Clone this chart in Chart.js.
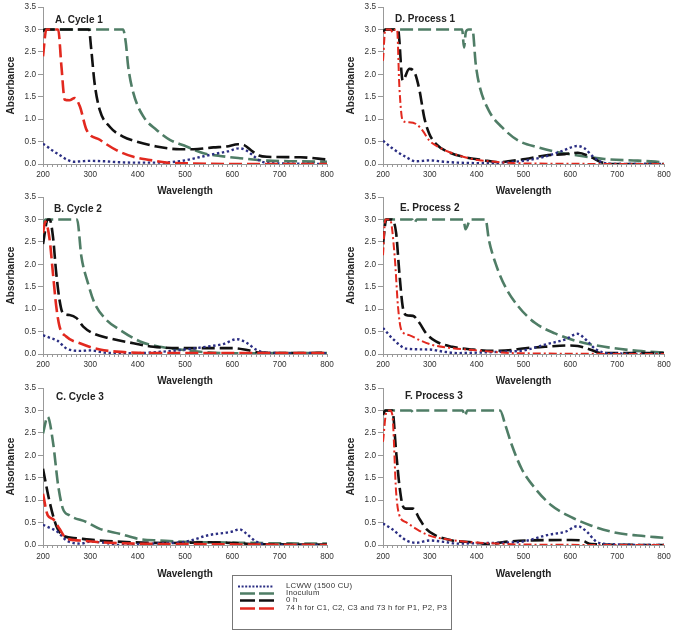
<!DOCTYPE html>
<html>
<head>
<meta charset="utf-8">
<script src="https://cdn.jsdelivr.net/npm/chart.js@4"></script>
<style>
  body { margin: 0; background: #fff; width: 677px; height: 635px; position: relative; overflow: hidden; font-family: "Liberation Sans", Arial, sans-serif; }
  canvas { position: absolute; }
  #legend { position: absolute; left: 232px; top: 575px; width: 220px; height: 55px; border: 1px solid #777; box-sizing: border-box; font-size: 7.8px; letter-spacing: 0.25px; color: #333; }
  .row { position: absolute; left: 0; height: 8px; line-height: 8px; display: flex; align-items: center; white-space: nowrap; }
  .row svg { margin-left: 5px; margin-right: 12px; }
</style>
</head>
<body>
<canvas id="cA" width="340" height="200" style="left:0;top:0"></canvas>
<canvas id="cD" width="337" height="200" style="left:340px;top:0"></canvas>
<canvas id="cB" width="340" height="200" style="left:0;top:190px"></canvas>
<canvas id="cE" width="337" height="200" style="left:340px;top:190px"></canvas>
<canvas id="cC" width="340" height="202" style="left:0;top:381px"></canvas>
<canvas id="cF" width="337" height="202" style="left:340px;top:381px"></canvas>

<div id="legend">
  <div class="row" style="top:6px"><svg width="36" height="7"><line x1="0" y1="3.5" x2="36" y2="3.5" stroke="#2b2e83" stroke-width="2" stroke-dasharray="2 1.6"/></svg>LCWW (1500 CU)</div>
  <div class="row" style="top:13px"><svg width="36" height="7"><line x1="2" y1="3.5" x2="36" y2="3.5" stroke="#4f7d66" stroke-width="2.5" stroke-dasharray="15 4"/></svg>Inoculum</div>
  <div class="row" style="top:20px"><svg width="36" height="7"><line x1="2" y1="3.5" x2="36" y2="3.5" stroke="#111" stroke-width="2.5" stroke-dasharray="15 4"/></svg>0 h</div>
  <div class="row" style="top:28px"><svg width="36" height="7"><line x1="2" y1="3.5" x2="36" y2="3.5" stroke="#e2291f" stroke-width="2.5" stroke-dasharray="15 4"/></svg>74 h for C1, C2, C3 and 73 h for P1, P2, P3</div>
</div>

<script>
// --- DATA: wavelength (nm) / absorbance ---

// A. Cycle 1
const wlA_lcww = [200,210,220,235,250,265,280,300,330,360,400,440,470,500,530,560,590,615,630,645,660,680,720,800];
const absA_lcww = [0.45,0.38,0.3,0.2,0.1,0.05,0.06,0.07,0.06,0.04,0.03,0.03,0.04,0.08,0.15,0.22,0.28,0.35,0.3,0.18,0.06,0.02,0.01,0.0];
const wlA_inoc = [200,205,369,375,380,391,412,440,468,503,539,574,616,673,740,800];
const absA_inoc = [2.95,3.0,3.0,2.7,2.17,1.58,1.06,0.76,0.54,0.39,0.24,0.18,0.13,0.075,0.06,0.05];
const wlA_0h = [200,203,297,302,309,320,341,369,398,440,489,518,560,588,612,625,640,656,673,744,800];
const absA_0h = [2.95,3.0,3.0,2.55,1.8,1.2,0.83,0.61,0.5,0.39,0.33,0.33,0.37,0.39,0.44,0.42,0.3,0.19,0.16,0.15,0.1];
const wlA_end = [200,207,232,239,246,256,267,278,292,320,355,391,426,461,504,600,800];
const absA_end = [2.4,3.0,3.0,2.17,1.43,1.42,1.47,1.28,0.76,0.54,0.31,0.16,0.09,0.03,0.015,0.0,0.0];

// B. Cycle 2
const wlB_lcww = [200,215,230,250,280,300,330,360,400,450,500,550,580,610,630,650,670,720,800];
const absB_lcww = [0.42,0.36,0.3,0.12,0.07,0.08,0.03,0.02,0.02,0.05,0.1,0.17,0.22,0.33,0.25,0.1,0.03,0.02,0.02];
const wlB_inoc = [200,205,272,281,295,309,334,362,405,447,489,532,602,700,800];
const absB_inoc = [2.9,3.0,3.0,2.18,1.58,1.13,0.76,0.54,0.28,0.16,0.1,0.05,0.015,0.02,0.02];
const wlB_0h = [200,210,214,221,228,235,242,256,271,285,306,341,391,433,496,560,602,631,659,744,800];
const absB_0h = [2.45,3.0,3.0,2.62,1.8,1.2,0.91,0.87,0.8,0.61,0.46,0.35,0.24,0.16,0.13,0.13,0.13,0.09,0.03,0.02,0.03];
const wlB_end = [200,205,214,221,228,235,249,278,320,376,420,800];
const absB_end = [2.7,2.95,2.55,1.8,1.06,0.61,0.39,0.24,0.1,0.04,0.02,0.02];

// C. Cycle 3
const wlC_lcww = [200,215,230,250,280,300,330,360,400,450,500,550,600,615,630,650,680,800];
const absC_lcww = [0.45,0.38,0.3,0.1,0.03,0.08,0.05,0.0,0.02,0.04,0.07,0.22,0.3,0.35,0.25,0.08,0.0,0.0];
const wlC_inoc = [200,210,221,232,242,256,292,320,362,405,447,496,567,680,800];
const absC_inoc = [2.49,2.86,2.3,1.33,0.81,0.66,0.51,0.36,0.25,0.13,0.1,0.07,0.06,0.04,0.03];
const wlC_0h = [200,214,228,242,271,320,391,461,553,602,650,800];
const absC_0h = [1.7,0.96,0.43,0.21,0.15,0.1,0.06,0.045,0.06,0.045,0.02,0.01];
const wlC_end = [200,210,221,235,249,278,320,400,500,800];
const absC_end = [1.14,0.66,0.58,0.36,0.15,0.1,0.06,0.03,0.02,0.0];

// D. Process 1
const wlD_lcww = [200,220,250,270,300,330,360,400,450,500,540,580,615,630,650,670,700,800];
const absD_lcww = [0.52,0.35,0.15,0.06,0.08,0.05,0.03,0.02,0.03,0.07,0.15,0.28,0.4,0.35,0.15,0.03,0.0,0.0];
const wlD_inoc = [200,205,369,373,377,383,391,398,405,426,454,489,532,574,616,673,744,800];
const absD_inoc = [2.95,3.0,3.0,2.6,2.95,3.0,3.0,2.23,1.79,1.19,0.82,0.52,0.37,0.26,0.19,0.11,0.075,0.04];
const wlD_0h = [200,205,232,242,256,267,278,288,299,313,341,376,412,447,475,504,546,588,616,645,666,687,800];
const absD_0h = [2.95,3.0,3.0,1.86,2.12,2.05,1.64,1.04,0.67,0.45,0.26,0.15,0.09,0.04,0.07,0.11,0.19,0.22,0.25,0.15,0.04,0.0,0.0];
const wlD_end = [200,205,216,221,226,230,235,242,253,271,285,299,320,348,391,426,461,520,800];
const absD_end = [2.3,3.0,3.0,2.93,3.0,3.0,1.71,0.97,0.93,0.89,0.74,0.52,0.37,0.24,0.11,0.06,0.03,0.01,0.0];

// E. Process 2
const wlE_lcww = [200,220,250,300,330,360,400,450,500,550,590,615,635,655,680,800];
const absE_lcww = [0.58,0.35,0.12,0.1,0.05,0.02,0.03,0.05,0.08,0.22,0.33,0.45,0.3,0.1,0.02,0.0];
const wlE_inoc = [200,205,262,267,272,372,376,387,419,426,440,461,489,525,567,616,673,744,800];
const absE_inoc = [2.95,3.0,3.0,2.92,3.0,3.0,2.78,3.0,3.0,2.55,2.03,1.5,1.06,0.69,0.46,0.28,0.16,0.07,0.03];
const wlE_0h = [200,207,218,228,235,242,249,264,278,292,313,348,391,433,475,504,546,595,616,645,666,800];
const absE_0h = [2.45,3.0,3.0,2.7,1.8,1.06,0.87,0.85,0.69,0.46,0.28,0.16,0.1,0.07,0.09,0.13,0.16,0.19,0.18,0.09,0.02,0.02];
const wlE_end = [200,205,215,225,232,239,256,278,306,348,391,433,475,800];
const absE_end = [2.2,3.0,3.0,2.17,1.06,0.54,0.42,0.31,0.2,0.13,0.09,0.05,0.02,0.0];

// F. Process 3
const wlF_lcww = [200,220,250,270,300,330,360,400,450,500,550,590,615,635,655,680,800];
const absF_lcww = [0.48,0.35,0.1,0.05,0.1,0.07,0.03,0.04,0.05,0.08,0.22,0.3,0.42,0.3,0.08,0.02,0.0];
const wlF_inoc = [200,205,260,265,270,370,375,380,450,461,475,496,525,560,602,645,694,744,800];
const absF_inoc = [2.95,3.0,3.0,2.95,3.0,3.0,2.88,3.0,3.0,2.68,2.23,1.7,1.26,0.88,0.62,0.43,0.28,0.21,0.16];
const wlF_0h = [200,205,220,228,235,242,249,264,278,292,313,348,391,426,461,504,602,624,645,800];
const absF_0h = [2.9,3.0,3.0,2.08,1.33,0.88,0.81,0.81,0.58,0.36,0.21,0.1,0.06,0.02,0.07,0.1,0.11,0.1,0.02,0.0];
const wlF_end = [200,207,215,220,228,235,249,271,299,341,391,426,500,800];
const absF_end = [2.3,2.95,3.0,2.9,1.18,0.66,0.51,0.36,0.21,0.12,0.06,0.04,0.01,0.0];

const seriesLabels = ['LCWW (1500 CU)', 'Inoculum', '0 h', '74 h for C1, C2, C3 and 73 h for P1, P2, P3'];

// --- STYLE ---
const styles = {
  lcww: { borderColor: '#2b2e83', borderWidth: 2.4, borderDash: [2.4, 2.6] },
  inoc: { borderColor: '#4f7d66', borderWidth: 2.6, borderDash: [13, 5] },
  zero: { borderColor: '#111111', borderWidth: 2.6, borderDash: [13, 5] },
  end:  { borderColor: '#e2291f', borderWidth: 2.6, borderDash: [13, 5] },
  endDashDot: { borderColor: '#e2291f', borderWidth: 2, borderDash: [8, 3, 2, 3] }
};

const pts = (wl, abs) => wl.map((w, i) => ({ x: w, y: abs[i] }));

// panel title drawn inside the plot area
const panelTitle = {
  id: 'panelTitle',
  afterDraw(chart, args, opts) {
    const { ctx, chartArea } = chart;
    ctx.save();
    ctx.font = 'bold 10px "Liberation Sans", Arial, sans-serif';
    ctx.fillStyle = '#222';
    ctx.textBaseline = 'middle';
    ctx.fillText(opts.text, chartArea.left + opts.dx, chartArea.top + opts.dy);
    ctx.restore();
  }
};

const panels = [
  { id: 'cA', title: 'A. Cycle 1', dx: 12, dy: 13, xh: 36, tickPad: 3, red: 'end',
    d: [[wlA_lcww, absA_lcww], [wlA_inoc, absA_inoc], [wlA_0h, absA_0h], [wlA_end, absA_end]] },
  { id: 'cB', title: 'B. Cycle 2', dx: 11, dy: 12, xh: 36, tickPad: 3, red: 'end',
    d: [[wlB_lcww, absB_lcww], [wlB_inoc, absB_inoc], [wlB_0h, absB_0h], [wlB_end, absB_end]] },
  { id: 'cC', title: 'C. Cycle 3', dx: 13, dy: 9, xh: 38, tickPad: 4, red: 'end',
    d: [[wlC_lcww, absC_lcww], [wlC_inoc, absC_inoc], [wlC_0h, absC_0h], [wlC_end, absC_end]] },
  { id: 'cD', title: 'D. Process 1', dx: 12, dy: 12, xh: 36, tickPad: 3, red: 'endDashDot',
    d: [[wlD_lcww, absD_lcww], [wlD_inoc, absD_inoc], [wlD_0h, absD_0h], [wlD_end, absD_end]] },
  { id: 'cE', title: 'E. Process 2', dx: 17, dy: 11, xh: 36, tickPad: 3, red: 'endDashDot',
    d: [[wlE_lcww, absE_lcww], [wlE_inoc, absE_inoc], [wlE_0h, absE_0h], [wlE_end, absE_end]] },
  { id: 'cF', title: 'F. Process 3', dx: 22, dy: 8, xh: 38, tickPad: 4, red: 'endDashDot',
    d: [[wlF_lcww, absF_lcww], [wlF_inoc, absF_inoc], [wlF_0h, absF_0h], [wlF_end, absF_end]] }
];

const axisGray = '#999';
const tickFont = { family: '"Liberation Sans", Arial, sans-serif', size: 8.2 };
const titleFont = { family: '"Liberation Sans", Arial, sans-serif', size: 10, weight: 'bold' };

panels.forEach(p => {
  const styleKeys = ['lcww', 'inoc', 'zero', p.red];
  // red on top, lcww under it
  const datasets = p.d.map((s, i) => ({
    label: seriesLabels[i],
    data: pts(s[0], s[1]),
    ...styles[styleKeys[i]],
    order: [1, 3, 2, 0][i]
  }));

  new Chart(document.getElementById(p.id), {
    type: 'line',
    data: { datasets },
    options: {
      responsive: false,
      animation: false,
      devicePixelRatio: 1,
      layout: { padding: { top: 7, right: 13, left: 0, bottom: 0 } },
      elements: {
        point: { radius: 0 },
        line: { fill: false, cubicInterpolationMode: 'monotone', borderCapStyle: 'butt' }
      },
      plugins: {
        legend: { display: false },
        tooltip: { enabled: false },
        panelTitle: { text: p.title, dx: p.dx, dy: p.dy }
      },
      scales: {
        x: {
          type: 'linear', min: 200, max: 800,
          ticks: {
            stepSize: 10, autoSkip: false, maxRotation: 0, padding: p.tickPad,
            callback: v => (v % 100 === 0 ? v : ''),
            font: tickFont, color: '#333'
          },
          grid: { drawOnChartArea: false, tickLength: 3, color: axisGray },
          border: { color: axisGray },
          title: { display: true, text: 'Wavelength', font: titleFont, color: '#222', padding: { top: 0, bottom: 3 } },
          afterFit: s => { s.height = p.xh; }
        },
        y: {
          min: 0, max: 3.5,
          ticks: { stepSize: 0.5, padding: 2, callback: v => v.toFixed(1), font: tickFont, color: '#333' },
          grid: { drawOnChartArea: false, tickLength: 5, color: axisGray },
          border: { color: axisGray },
          title: { display: true, text: 'Absorbance', font: titleFont, color: '#222', padding: { top: 5, bottom: 0 } },
          afterFit: s => { s.width = 43; }
        }
      }
    },
    plugins: [panelTitle]
  });
});
</script>
</body>
</html>
